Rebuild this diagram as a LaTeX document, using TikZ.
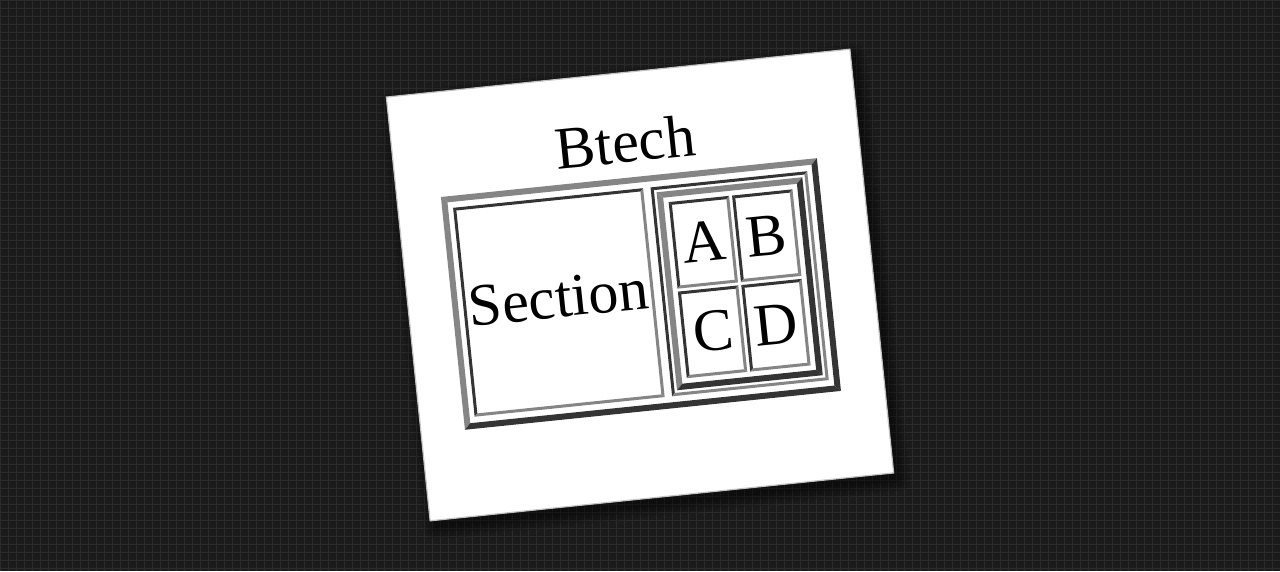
\documentclass[tikz,border=0pt]{standalone}
\usepackage{fontspec}
\setmainfont{Liberation Serif}
\definecolor{bgc}{HTML}{1B1B1B}
\definecolor{gridc}{HTML}{2B2B2B}
\definecolor{lite}{HTML}{858585}
\definecolor{dark}{HTML}{343434}
\definecolor{pageedge}{HTML}{C4C4C4}
% bevelled border: x1 y1 x2 y2 thickness topleftcolour bottomrightcolour
\newcommand\bvbox[7]{%
  \fill[#6] (#1,#2) -- (#3,#2) -- ({#3-#5},{#2+#5}) -- ({#1+#5},{#2+#5}) -- cycle;
  \fill[#6] (#1,#2) -- ({#1+#5},{#2+#5}) -- ({#1+#5},{#4-#5}) -- (#1,#4) -- cycle;
  \fill[#7] (#3,#2) -- (#3,#4) -- ({#3-#5},{#4-#5}) -- ({#3-#5},{#2+#5}) -- cycle;
  \fill[#7] (#1,#4) -- (#3,#4) -- ({#3-#5},{#4-#5}) -- ({#1+#5},{#4-#5}) -- cycle;}
\begin{document}
\begin{tikzpicture}[x=1pt,y=-1pt,
  txt/.style={inner sep=0pt, font=\fontsize{60}{62}\selectfont, text=black, transform shape}]
\useasboundingbox (0,0) rectangle (1280,571);
\fill[bgc] (0,0) rectangle (1280,571);
\draw[gridc, line width=1pt] (0pt,-571pt) grid[step=8pt] (1280pt,0pt);
% shadow
\begin{scope}[shift={(645,292)}, rotate=5.9]
  \foreach \i in {0,2,...,12}{
    \fill[black, opacity=0.07, rounded corners=\i pt] ({-233-\i},{-213-\i}) rectangle ({233+\i},{213+\i});
  }
\end{scope}
\begin{scope}[shift={(640,285)}, rotate=5.9]
  % page
  \filldraw[fill=white, draw=pageedge, line width=1.2pt] (-233,-213) rectangle (233,213);
  % caption
  \node[txt, anchor=base] (btech) at (0,-123.5) {Btech};
  % outer table
  \bvbox{-189}{-108}{189}{126}{6}{lite}{dark}
  % cell 1 and cell 2
  \bvbox{-178}{-96}{13}{114}{3}{dark}{lite}
  \bvbox{20.5}{-96}{178}{114}{3}{dark}{lite}
  \node[txt, anchor=base] (section) at (-82.5,24) {Section};
  % inner table
  \bvbox{26}{-90.5}{172.5}{108.5}{6}{lite}{dark}
  \bvbox{37}{-79.5}{97.75}{7.5}{3}{dark}{lite}
  \bvbox{100.75}{-79.5}{161.5}{7.5}{3}{dark}{lite}
  \bvbox{37}{10.5}{97.75}{97.5}{3}{dark}{lite}
  \bvbox{100.75}{10.5}{161.5}{97.5}{3}{dark}{lite}
  \node[txt, anchor=base] (a) at (68,-16.5) {A};
  \node[txt, anchor=base] (b) at (131,-16.5) {B};
  \node[txt, anchor=base] (c) at (68,73) {C};
  \node[txt, anchor=base] (d) at (131,73) {D};
\end{scope}
\end{tikzpicture}
\end{document}
